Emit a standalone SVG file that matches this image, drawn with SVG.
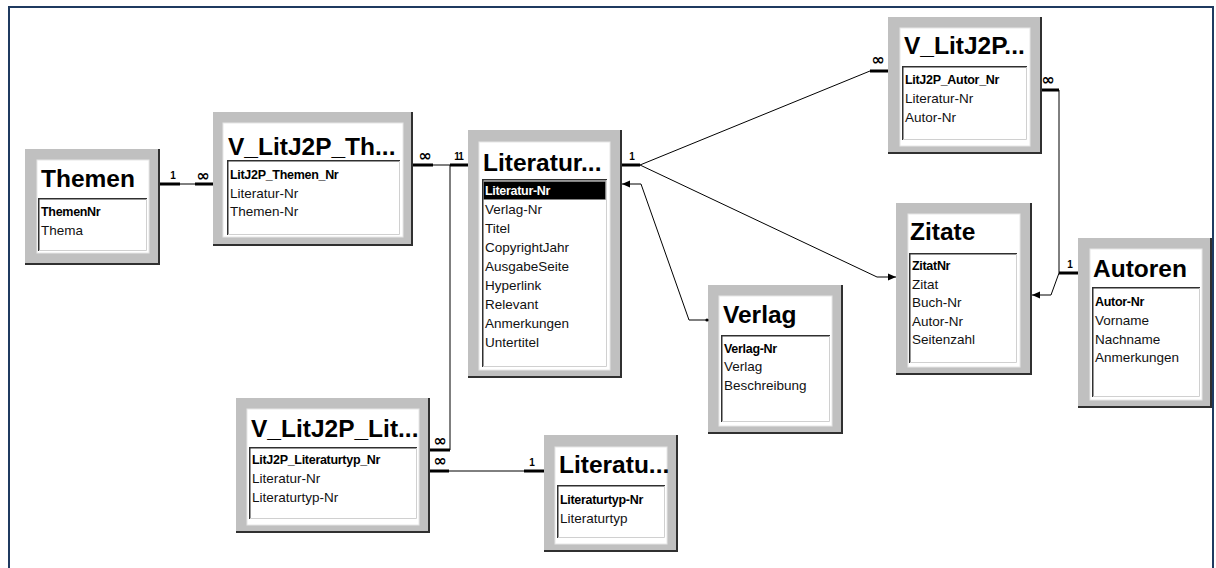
<svg xmlns="http://www.w3.org/2000/svg" width="1216" height="568" viewBox="0 0 1216 568">
<defs>
<style>
.tf{fill:#c0c0c0}
.sh{fill:none;stroke:#303030;stroke-width:2}
.hd{fill:#fff;stroke:#e6e6e6;stroke-width:1}
.lb{fill:#fff}
.lbd{fill:none;stroke:#303030;stroke-width:1.5}
.lbl{fill:none;stroke:#d0d0d0;stroke-width:1}
.ti{font-family:'Liberation Sans',Arial,sans-serif;font-weight:bold;font-size:24.5px;fill:#000}
.f{font-family:'Liberation Sans',Arial,sans-serif;font-size:13.5px;fill:#111}
.k{font-family:'Liberation Sans',Arial,sans-serif;font-weight:bold;font-size:12.5px;letter-spacing:-0.3px;fill:#000}
.kw{font-family:'Liberation Sans',Arial,sans-serif;font-weight:bold;font-size:12.5px;letter-spacing:-0.3px;fill:#fff}
.hl{fill:#000;stroke:#888;stroke-width:1;stroke-dasharray:1 1}
.ln{fill:none;stroke:#000;stroke-width:1}
.st{fill:none;stroke:#000;stroke-width:3}
.c1{font-family:'Liberation Sans',Arial,sans-serif;font-weight:bold;font-size:10px;fill:#000;text-anchor:middle}
.ci{font-family:'DejaVu Sans',sans-serif;font-weight:bold;font-size:16px;fill:#000;text-anchor:middle}
.frm{fill:none;stroke:#1f3a60;stroke-width:2}
</style>
<marker id="ar" viewBox="0 0 8 8" refX="8" refY="4" markerWidth="8" markerHeight="8" markerUnits="userSpaceOnUse" orient="auto"><path d="M0,0.5 L8,4 L0,7.5 z" fill="#000"/></marker>
</defs>
<rect x="0" y="0" width="1216" height="568" fill="#fff"/>
<path class="frm" d="M9,568 V7 H1213 V568"/>

<g id="t-themen">
<rect class="tf" x="25" y="149" width="135" height="116"/>
<path class="sh" d="M159,149 V264 H25"/>
<rect class="hd" x="37" y="160" width="112" height="93"/>
<rect class="lb" x="38" y="198" width="109" height="53"/>
<path class="lbd" d="M38.75,251 V198.75 H147"/>
<path class="lbl" d="M39,250.5 H146.5 V199"/>
<text class="ti" x="41" y="187">Themen</text>
<text class="k" x="41" y="216">ThemenNr</text>
<text class="f" x="41" y="235">Thema</text>
</g>

<g id="t-vth">
<rect class="tf" x="213" y="112" width="200" height="134"/>
<path class="sh" d="M412,112 V245 H213"/>
<rect class="hd" x="223" y="123" width="180" height="114"/>
<rect class="lb" x="227" y="160" width="173" height="75"/>
<path class="lbd" d="M227.75,235 V160.75 H400"/>
<path class="lbl" d="M228,234.5 H399.5 V161"/>
<text class="ti" x="228" y="155">V_LitJ2P_Th...</text>
<text class="k" x="230" y="179">LitJ2P_Themen_Nr</text>
<text class="f" x="230" y="198">Literatur-Nr</text>
<text class="f" x="230" y="216">Themen-Nr</text>
</g>

<g id="t-literatur">
<rect class="tf" x="468" y="130" width="154" height="248"/>
<path class="sh" d="M621,130 V377 H468"/>
<rect class="hd" x="479" y="142" width="131" height="228"/>
<rect class="lb" x="482" y="179" width="125" height="188"/>
<path class="lbd" d="M482.75,367 V179.75 H607"/>
<path class="lbl" d="M483,366.5 H606.5 V180"/>
<text class="ti" x="483" y="171">Literatur...</text>
<rect class="hl" x="483.5" y="181.5" width="122" height="18"/>
<text class="kw" x="485" y="195">Literatur-Nr</text>
<text class="f" x="485" y="214">Verlag-Nr</text>
<text class="f" x="485" y="233">Titel</text>
<text class="f" x="485" y="252">CopyrightJahr</text>
<text class="f" x="485" y="271">AusgabeSeite</text>
<text class="f" x="485" y="290">Hyperlink</text>
<text class="f" x="485" y="309">Relevant</text>
<text class="f" x="485" y="328">Anmerkungen</text>
<text class="f" x="485" y="347">Untertitel</text>
</g>

<g id="t-vautor">
<rect class="tf" x="888" y="17" width="154" height="137"/>
<path class="sh" d="M1041,17 V153 H888"/>
<rect class="hd" x="900" y="28" width="130" height="118"/>
<rect class="lb" x="902" y="66" width="125" height="74"/>
<path class="lbd" d="M902.75,140 V66.75 H1027"/>
<path class="lbl" d="M903,139.5 H1026.5 V67"/>
<text class="ti" x="904" y="54">V_LitJ2P...</text>
<text class="k" x="905" y="84">LitJ2P_Autor_Nr</text>
<text class="f" x="905" y="103">Literatur-Nr</text>
<text class="f" x="905" y="122">Autor-Nr</text>
</g>

<g id="t-zitate">
<rect class="tf" x="896" y="203" width="136" height="172"/>
<path class="sh" d="M1031,203 V374 H896"/>
<rect class="hd" x="908" y="214" width="112" height="153"/>
<rect class="lb" x="909" y="253" width="108" height="110"/>
<path class="lbd" d="M909.75,363 V253.75 H1017"/>
<path class="lbl" d="M910,362.5 H1016.5 V254"/>
<text class="ti" x="910" y="240">Zitate</text>
<text class="k" x="912" y="270">ZitatNr</text>
<text class="f" x="912" y="289">Zitat</text>
<text class="f" x="912" y="307">Buch-Nr</text>
<text class="f" x="912" y="326">Autor-Nr</text>
<text class="f" x="912" y="344">Seitenzahl</text>
</g>

<g id="t-autoren">
<rect class="tf" x="1078" y="238" width="134" height="170"/>
<path class="sh" d="M1211,238 V407 H1078"/>
<rect class="hd" x="1090" y="249" width="112" height="151"/>
<rect class="lb" x="1092" y="287" width="108" height="110"/>
<path class="lbd" d="M1092.75,397 V287.75 H1200"/>
<path class="lbl" d="M1093,396.5 H1199.5 V288"/>
<text class="ti" x="1093" y="277">Autoren</text>
<text class="k" x="1095" y="306">Autor-Nr</text>
<text class="f" x="1095" y="325">Vorname</text>
<text class="f" x="1095" y="344">Nachname</text>
<text class="f" x="1095" y="362">Anmerkungen</text>
</g>

<g id="t-verlag">
<rect class="tf" x="708" y="285" width="135" height="149"/>
<path class="sh" d="M842,285 V433 H708"/>
<rect class="hd" x="719" y="296" width="113" height="130"/>
<rect class="lb" x="721" y="335" width="109" height="87"/>
<path class="lbd" d="M721.75,422 V335.75 H830"/>
<path class="lbl" d="M722,421.5 H829.5 V336"/>
<text class="ti" x="723" y="323">Verlag</text>
<text class="k" x="724" y="353">Verlag-Nr</text>
<text class="f" x="724" y="371">Verlag</text>
<text class="f" x="724" y="390">Beschreibung</text>
</g>

<g id="t-vlit">
<rect class="tf" x="236" y="398" width="194" height="135"/>
<path class="sh" d="M429,398 V532 H236"/>
<rect class="hd" x="247" y="409" width="172" height="116"/>
<rect class="lb" x="249" y="447" width="168" height="72"/>
<path class="lbd" d="M249.75,519 V447.75 H417"/>
<path class="lbl" d="M250,518.5 H416.5 V448"/>
<text class="ti" x="251" y="437">V_LitJ2P_Lit...</text>
<text class="k" x="252" y="464">LitJ2P_Literaturtyp_Nr</text>
<text class="f" x="252" y="483">Literatur-Nr</text>
<text class="f" x="252" y="502">Literaturtyp-Nr</text>
</g>

<g id="t-littyp">
<rect class="tf" x="544" y="435" width="134" height="117"/>
<path class="sh" d="M677,435 V551 H544"/>
<rect class="hd" x="555" y="447" width="112" height="97"/>
<rect class="lb" x="557" y="485" width="108" height="53"/>
<path class="lbd" d="M557.75,538 V485.75 H665"/>
<path class="lbl" d="M558,537.5 H664.5 V486"/>
<text class="ti" x="559" y="473">Literatu...</text>
<text class="k" x="560" y="504">Literaturtyp-Nr</text>
<text class="f" x="560" y="523">Literaturtyp</text>
</g>

<g id="connectors">
<path class="st" d="M160,184 H180 M195,184 H213"/>
<path class="ln" d="M180,184 H195"/>
<text class="c1" x="173" y="179">1</text>
<text class="ci" x="203" y="181">∞</text>
<path class="st" d="M413,165 H433 M450,165 H468"/>
<path class="ln" d="M433,165 H450"/>
<text class="ci" x="425" y="161">∞</text>
<text class="c1" x="457" y="160">1</text>
<text class="c1" x="461" y="160">1</text>
<path class="ln" d="M450,165 V450"/>
<path class="st" d="M450,450 H430"/>
<text class="ci" x="440" y="446">∞</text>
<path class="st" d="M430,471 H449 M524,471 H544"/>
<path class="ln" d="M449,471 H524"/>
<text class="ci" x="440" y="466">∞</text>
<text class="c1" x="532" y="466">1</text>
<path class="st" d="M622,165 H640 M870,71 H888"/>
<path class="ln" d="M640,165 L870,71"/>
<text class="c1" x="632" y="160">1</text>
<text class="ci" x="878" y="65">∞</text>
<path class="ln" d="M640,165 L877,277 H896" marker-end="url(#ar)"/>
<path class="ln" d="M707,320 H689 L641,184 H622" marker-end="url(#ar)"/>
<circle cx="707" cy="320" r="1.6" fill="#000"/>
<path class="st" d="M1042,90 H1059 M1059,273 H1078"/>
<path class="ln" d="M1059,90 V273"/>
<text class="ci" x="1048" y="85">∞</text>
<text class="c1" x="1070" y="268">1</text>
<path class="ln" d="M1059,273 L1051,295 H1032" marker-end="url(#ar)"/>
</g>
</svg>
